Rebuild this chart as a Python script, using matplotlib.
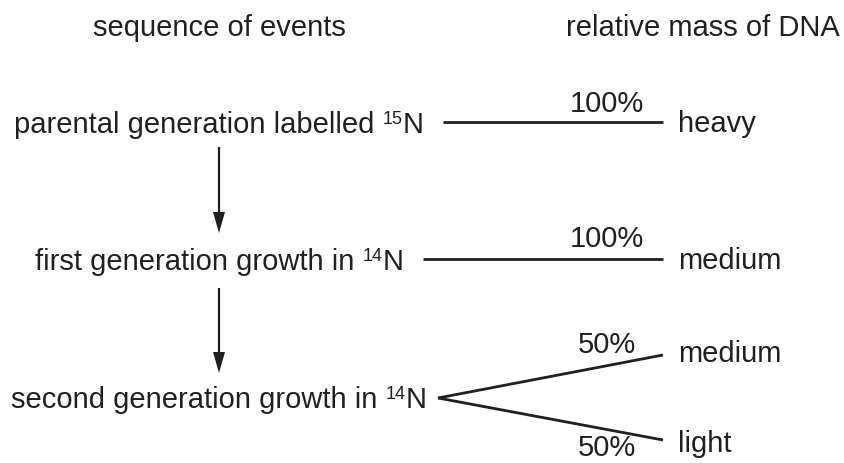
import matplotlib
matplotlib.use('Agg')
import matplotlib.pyplot as plt

# Diagram content
headers = ['sequence of events', 'relative mass of DNA']
events = ['parental generation labelled', 'first generation growth in', 'second generation growth in']
isotopes = ['15', '14', '14']
# each event row leads to one or two DNA results (percent, mass)
results = [
    [('100%', 'heavy')],
    [('100%', 'medium')],
    [('50%', 'medium'), ('50%', 'light')],
]

ink = '#231f20'
plt.rcParams['font.family'] = ['Liberation Sans', 'DejaVu Sans']

fig = plt.figure(figsize=(8.44, 4.63), dpi=100)
ax = fig.add_axes([0, 0, 1, 1])
ax.set_xlim(0, 844)
ax.set_ylim(463, 0)   # pixel-like coords, y down
ax.axis('off')

fs = 21
fs_sup = 13
renderer = fig.canvas.get_renderer()

def width(t):
    bb = t.get_window_extent(renderer=renderer)
    return bb.width

# headers
ax.text(219, 36, headers[0], ha='center', va='baseline', fontsize=fs, color=ink)
ax.text(703, 36, headers[1], ha='center', va='baseline', fontsize=fs, color=ink)

# event rows: baseline y, line start x, line y
row_base = [133, 270, 408]
line_start = [443, 423, 438]
line_y = [122, 259, 398]
center_x = 219
line_end = 663

def event_label(y, pre, sup):
    t1 = ax.text(0, y, pre, ha='left', va='baseline', fontsize=fs, color=ink)
    t2 = ax.text(0, y - 9, sup, ha='left', va='baseline', fontsize=fs_sup, color=ink)
    t3 = ax.text(0, y, 'N', ha='left', va='baseline', fontsize=fs, color=ink)
    w1, w2, w3 = width(t1), width(t2), width(t3)
    gap = 8
    x0 = center_x - (w1 + gap + w2 + w3) / 2
    t1.set_x(x0)
    t2.set_x(x0 + w1 + gap)
    t3.set_x(x0 + w1 + gap + w2)

for i, (ev, iso) in enumerate(zip(events, isotopes)):
    event_label(row_base[i], ev, iso)

# branch end points and label baselines
branch_y = [[122], [259], [355, 440]]
pct_base = [[112], [247], [353, 456]]
mass_base = [[132], [269], [362, 452]]

for i, res in enumerate(results):
    for j, (pct, mass) in enumerate(res):
        ax.plot([line_start[i], line_end], [line_y[i], branch_y[i][j]],
                color=ink, lw=2, solid_capstyle='butt')
        ax.text(607, pct_base[i][j], pct, ha='center', va='baseline', fontsize=fs, color=ink)
        ax.text(678, mass_base[i][j], mass, ha='left', va='baseline', fontsize=fs, color=ink)

# downward arrows between rows
arrows = [(147, 233), (288, 373)]
for y0, y1 in arrows:
    ax.arrow(center_x, y0, 0, y1 - y0, width=2.2, head_width=12, head_length=21,
             length_includes_head=True, color=ink, lw=0)

fig.savefig('out.png', dpi=100, facecolor='white')
